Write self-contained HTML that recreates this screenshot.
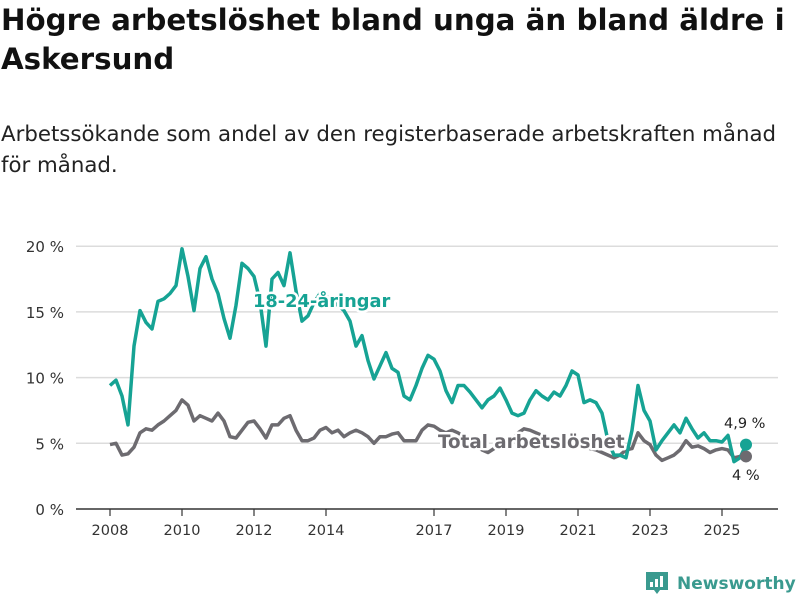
<!DOCTYPE html>
<html><head><meta charset="utf-8"><style>
body{margin:0;background:#fff;font-family:"DejaVu Sans","Liberation Sans",sans-serif;}
#wrap{position:relative;width:800px;height:600px;overflow:hidden;}
h1{position:absolute;left:1px;top:1px;margin:0;font-size:29.3px;line-height:39px;font-weight:bold;color:#111;white-space:nowrap;}
p.sub{position:absolute;left:1px;top:119px;margin:0;font-size:21.3px;line-height:31px;color:#222;white-space:nowrap;}
svg text{font-family:"DejaVu Sans","Liberation Sans",sans-serif;}
</style></head><body>
<div id="wrap">
<h1>Högre arbetslöshet bland unga än bland äldre i<br>Askersund</h1>
<p class="sub">Arbetssökande som andel av den registerbaserade arbetskraften månad<br>för månad.</p>
<svg id="chart" width="800" height="600" style="position:absolute;left:0;top:0"></svg>
</div>
<script>
const yTicks=[0,5,10,15,20];
const yTickLabels=["0 %","5 %","10 %","15 %","20 %"];
const xTicks=[2008,2010,2012,2014,2017,2019,2021,2023,2025];
const youth=[9.4,9.8,8.6,6.4,12.4,15.1,14.2,13.7,15.8,16.0,16.4,17.0,19.8,17.7,15.1,18.3,19.2,17.5,16.4,14.5,13.0,15.5,18.7,18.3,17.7,15.8,12.4,17.5,18.0,17.0,19.5,16.6,14.3,14.7,15.7,16.4,16.2,15.8,15.5,15.1,14.3,12.4,13.2,11.3,9.9,10.9,11.9,10.7,10.4,8.6,8.3,9.4,10.7,11.7,11.4,10.5,9.0,8.1,9.4,9.4,8.9,8.3,7.7,8.3,8.6,9.2,8.3,7.3,7.1,7.3,8.3,9.0,8.6,8.3,8.9,8.6,9.4,10.5,10.2,8.1,8.3,8.1,7.3,5.2,4.1,4.1,3.9,6.0,9.4,7.5,6.7,4.5,5.2,5.8,6.4,5.8,6.9,6.1,5.4,5.8,5.2,5.2,5.1,5.6,3.6,3.9,4.9];
const total=[4.9,5.0,4.1,4.2,4.7,5.8,6.1,6.0,6.4,6.7,7.1,7.5,8.3,7.9,6.7,7.1,6.9,6.7,7.3,6.7,5.5,5.4,6.0,6.6,6.7,6.1,5.4,6.4,6.4,6.9,7.1,6.0,5.2,5.2,5.4,6.0,6.2,5.8,6.0,5.5,5.8,6.0,5.8,5.5,5.0,5.5,5.5,5.7,5.8,5.2,5.2,5.2,6.0,6.4,6.3,6.0,5.8,6.0,5.8,5.5,5.2,4.8,4.5,4.3,4.6,4.8,5.0,5.2,5.8,6.1,6.0,5.8,5.6,5.4,5.2,5.1,5.2,5.4,5.2,4.8,4.6,4.5,4.3,4.1,3.9,4.1,4.5,4.6,5.8,5.2,4.9,4.1,3.7,3.9,4.1,4.5,5.2,4.7,4.8,4.6,4.3,4.5,4.6,4.5,3.9,4.0,4.0];
const startYear=2008, stepMonths=2;
const NS="http://www.w3.org/2000/svg";
const svg=document.getElementById('chart');
const x=t=>110+(t-2008)*36;
const y=v=>509-v*13.14;
function mk(tag,attrs,parent){const e=document.createElementNS(NS,tag);for(const k in attrs)e.setAttribute(k,attrs[k]);(parent||svg).appendChild(e);return e;}
yTicks.forEach((v,i)=>{
 if(v>0){const g=mk('line',{x1:76,x2:778,y1:y(v),y2:y(v),stroke:'#dcdcdc','stroke-width':1.5});
 
 }
 const t=mk('text',{x:64,y:y(v)+6,'text-anchor':'end','font-size':15,fill:'#333'});
 t.textContent=yTickLabels[i];
 
 
});
const ax=mk('line',{x1:76,x2:778,y1:509,y2:509,stroke:'#333','stroke-width':1.5});


xTicks.forEach(yr=>{
 const tk=mk('line',{x1:x(yr),x2:x(yr),y1:509,y2:516,stroke:'#333','stroke-width':1.2});
 
 
 const t=mk('text',{x:x(yr),y:535,'text-anchor':'middle','font-size':14.5,fill:'#333'});
 t.textContent=yr;
 
 
});
function pts(arr){return arr.map((v,i)=>x(startYear+i*stepMonths/12).toFixed(1)+','+y(v).toFixed(1)).join(' ');}
const lt=mk('polyline',{points:pts(total),fill:'none',stroke:'#6d6b70','stroke-width':3.5,'stroke-linejoin':'round'});


const ly=mk('polyline',{points:pts(youth),fill:'none',stroke:'#16a394','stroke-width':3.5,'stroke-linejoin':'round'});


function lab(txt,xx,yy,col,name,size,bold,halo){
 const t=mk('text',{x:xx,y:yy,'font-size':size,'font-weight':bold?'bold':'normal',fill:col});
 if(halo){t.setAttribute('stroke','#fff');t.setAttribute('stroke-width',5);t.setAttribute('paint-order','stroke');t.setAttribute('stroke-linejoin','round');}
 t.textContent=txt;
 
 
}
lab('18-24-åringar',253,307,'#16a394','youth-series-label',17.8,true,true);
lab('Total arbetslöshet',438,448,'#6d6b70','total-series-label',18.3,true,true);
const li=youth.length-1, lx=x(startYear+li*stepMonths/12);
const d1=mk('circle',{cx:lx,cy:y(total[li]),r:6,fill:'#6d6b70'});


const d2=mk('circle',{cx:lx,cy:y(youth[li]),r:6,fill:'#16a394'});


lab(youth[li].toString().replace('.',',')+' %',724,428,'#222','youth-end-value',14.5,false,true);
lab(Math.round(total[li])+' %',732,480,'#222','total-end-value',14.5,false,true);
const lg=mk('g',{});


mk('path',{d:'M646 572 h22 v18 h-8 l-3 4 l-3 -4 h-8 z',fill:'#3a9a8f'},lg);
mk('rect',{x:650,y:582,width:3,height:5,fill:'#fff'},lg);
mk('rect',{x:655,y:579,width:3,height:8,fill:'#fff'},lg);
mk('rect',{x:660,y:576,width:3,height:11,fill:'#fff'},lg);
const lt2=mk('text',{x:677,y:589,'font-size':17,'font-weight':'bold',fill:'#3a9a8f'},lg);
lt2.textContent='Newsworthy';
</script>
</body></html>
